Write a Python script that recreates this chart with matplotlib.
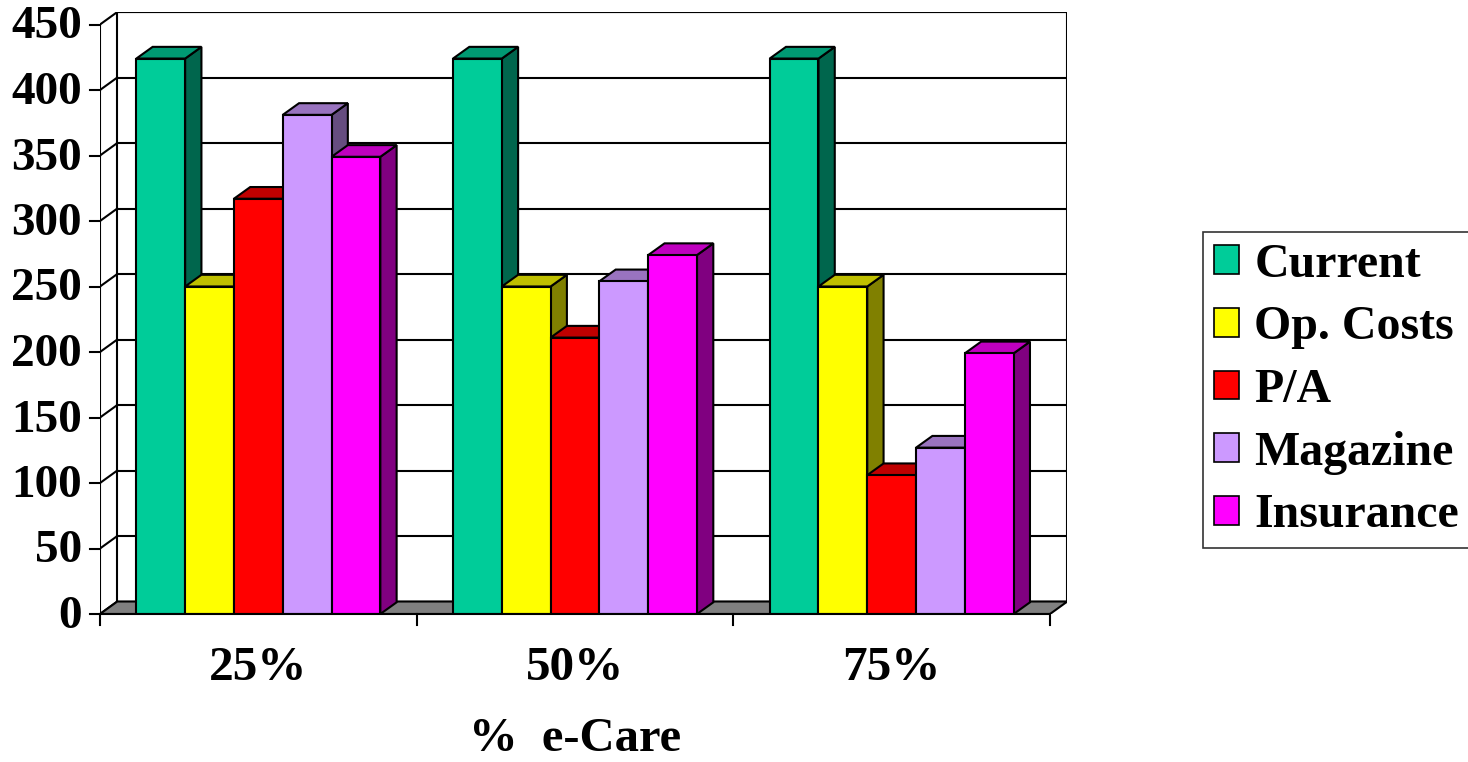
import matplotlib
matplotlib.use("Agg")
import matplotlib.pyplot as plt
from matplotlib.patches import Polygon, Rectangle, Patch
from matplotlib.colors import to_rgb

# ---- data ----
categories = ["25%", "50%", "75%"]
series_names = ["Current", "Op. Costs", "P/A", "Magazine", "Insurance"]
current = [424, 424, 424]
op_costs = [250, 250, 250]
pa = [317, 211, 106]
magazine = [381, 254, 127]
insurance = [349, 274, 199]
y_ticks = [0, 50, 100, 150, 200, 250, 300, 350, 400, 450]
x_title = "%  e-Care"

series_values = [current, op_costs, pa, magazine, insurance]
colors = ["#00CC99", "#FFFF00", "#FF0000", "#CC99FF", "#FF00FF"]

# ---- layout (pixels) ----
W, H = 1468, 762
CAT_PX = 316.67          # pixels per category
VAL_PX = 65.5 / 50.0     # pixels per value unit
X0, Y0 = 100, 614        # front origin, pixels from top-left
WALL_DX = 17.3 / CAT_PX
WALL_DY = 12.5 / VAL_PX
BAR_DX = 16.3 / CAT_PX
BAR_DY = 11.7 / VAL_PX
BAR_W = 48.8 / CAT_PX
YMAX = y_ticks[-1]
LW = 1.5
FONT = "Liberation Serif"

fig = plt.figure(figsize=(W / 100, H / 100), dpi=100)
ax_w = (len(categories) + WALL_DX) * CAT_PX
ax_h = (YMAX + WALL_DY) * VAL_PX
ax = fig.add_axes([X0 / W, (H - Y0) / H, ax_w / W, ax_h / H])
ax.set_xlim(0, len(categories) + WALL_DX)
ax.set_ylim(0, YMAX + WALL_DY)
ax.axis("off")

ncat = len(categories)

# back wall with gridlines
ax.add_patch(Rectangle((WALL_DX, WALL_DY), ncat, YMAX, facecolor="white",
                       edgecolor="black", lw=LW, zorder=1))
for v in y_ticks:
    ax.plot([WALL_DX, ncat + WALL_DX], [v + WALL_DY, v + WALL_DY],
            color="black", lw=LW, zorder=2)
    # side wall connectors
    ax.plot([0, WALL_DX], [v, v + WALL_DY], color="black", lw=LW, zorder=2)
    # tick marks on the value axis
    ax.plot([-10 / CAT_PX, 0], [v, v], color="black", lw=LW, zorder=2,
            clip_on=False)
    ax.text(-18.3 / CAT_PX, v - 3.0 / VAL_PX, str(v), ha="right", va="center",
            fontsize=34, fontweight="bold", family=FONT)

# front value axis
ax.plot([0, 0], [0, YMAX], color="black", lw=LW, zorder=2)

# floor
ax.add_patch(Polygon([(0, 0), (ncat, 0), (ncat + WALL_DX, WALL_DY),
                      (WALL_DX, WALL_DY)], closed=True, facecolor="#808080",
                     edgecolor="black", lw=LW, zorder=3))


def shade(c, f):
    r, g, b = to_rgb(c)
    return (r * f, g * f, b * f)


# bars, drawn left to right so nearer faces overlap correctly
z = 10
nser = len(series_values)
for i in range(ncat):
    start = i + 0.5 - nser * BAR_W / 2
    for j, vals in enumerate(series_values):
        v = vals[i]
        x = start + j * BAR_W
        col = colors[j]
        side = Polygon([(x + BAR_W, 0), (x + BAR_W + BAR_DX, BAR_DY),
                        (x + BAR_W + BAR_DX, v + BAR_DY), (x + BAR_W, v)],
                       closed=True, facecolor=shade(col, 0.5),
                       edgecolor="black", lw=LW, zorder=z)
        top = Polygon([(x, v), (x + BAR_DX, v + BAR_DY),
                       (x + BAR_W + BAR_DX, v + BAR_DY), (x + BAR_W, v)],
                      closed=True, facecolor=shade(col, 0.75),
                      edgecolor="black", lw=LW, zorder=z + 1)
        front = Rectangle((x, 0), BAR_W, v, facecolor=col, edgecolor="black",
                          lw=LW, zorder=z + 2)
        ax.add_patch(side)
        ax.add_patch(top)
        ax.add_patch(front)
        z += 3

# category axis
ax.plot([0, ncat], [0, 0], color="black", lw=LW, zorder=z, clip_on=False)
for k in range(ncat + 1):
    ax.plot([k, k], [0, -11 / VAL_PX], color="black", lw=LW, zorder=z,
            clip_on=False)
for i, lab in enumerate(categories):
    ax.text(i + 0.5, -(668 - Y0) / VAL_PX, lab, ha="center", va="center",
            fontsize=35.5, fontweight="bold", family=FONT)
ax.text(ncat / 2, -(739 - Y0) / VAL_PX, x_title, ha="center", va="center",
        fontsize=35, fontweight="bold", family=FONT)

# legend
handles = [Patch(facecolor=c, edgecolor="black", lw=1.2) for c in colors]
leg = ax.legend(handles, series_names, loc="upper left",
                bbox_to_anchor=(1203 / W, 1 - 232 / H),
                bbox_transform=fig.transFigure,
                prop={"family": FONT, "weight": "bold", "size": 34.5},
                frameon=True, fancybox=False, edgecolor="black",
                handlelength=0.54, handleheight=0.54, handletextpad=0.31,
                labelspacing=0.39, borderpad=0.22, borderaxespad=0)
leg.get_frame().set_linewidth(1.2)

fig.savefig("out.png", dpi=100)
